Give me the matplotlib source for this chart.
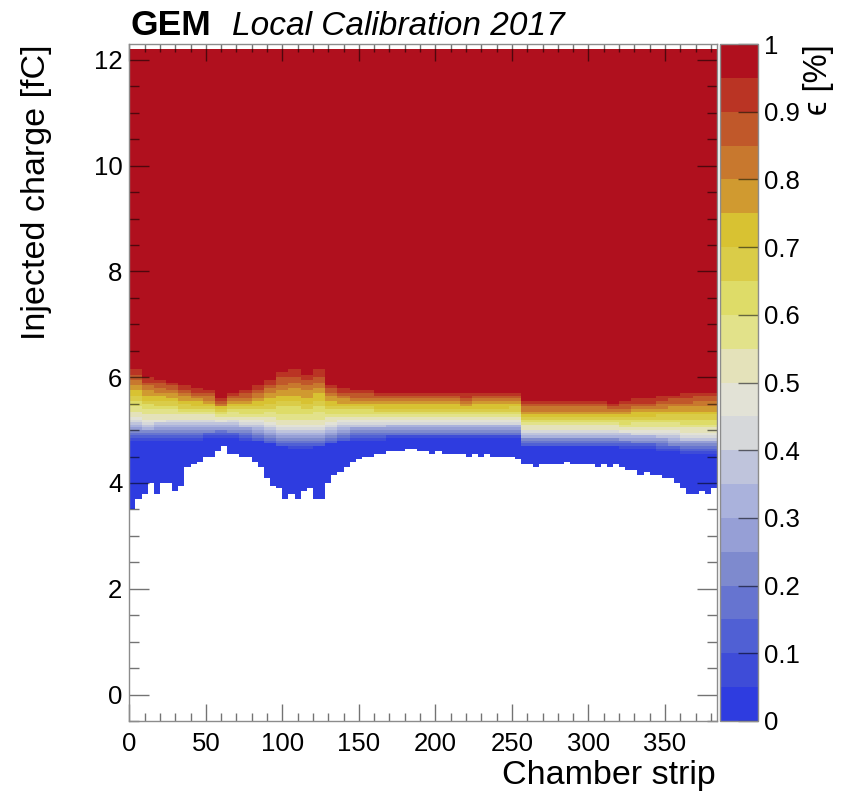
import numpy as np
import matplotlib
matplotlib.use('Agg')
import matplotlib.pyplot as plt
from matplotlib.colors import ListedColormap, BoundaryNorm
from matplotlib.ticker import MultipleLocator

plt.rcParams['font.family'] = ['Liberation Sans', 'DejaVu Sans']

# charge (fC) read per group of 8 strips (48 groups, strips 0..383)
# top_q: efficiency reaches 1, mid_q: ~0.5, low_q: ~0
top_q = [6.25, 6.10, 6.05, 6.00, 5.90, 5.85, 5.80, 5.65, 5.75, 5.80, 5.90, 6.05,
         6.20, 6.25, 6.15, 6.25, 5.95, 5.85, 5.80, 5.80, 5.75, 5.75, 5.75, 5.75,
         5.75, 5.75, 5.75, 5.73, 5.75, 5.75, 5.75, 5.77, 5.60, 5.60, 5.60, 5.60,
         5.60, 5.60, 5.60, 5.57, 5.60, 5.65, 5.65, 5.70, 5.75, 5.77, 5.80, 5.80]
mid_q = [5.25, 5.22, 5.22, 5.22, 5.22, 5.22, 5.22, 5.20, 5.22, 5.20, 5.18, 5.15,
         5.10, 5.08, 5.10, 5.10, 5.15, 5.18, 5.20, 5.20, 5.20, 5.20, 5.20, 5.20,
         5.20, 5.20, 5.20, 5.20, 5.20, 5.20, 5.20, 5.20, 5.02, 5.02, 5.02, 5.02,
         5.02, 5.02, 5.02, 5.02, 5.00, 5.00, 5.00, 5.00, 4.98, 4.95, 4.95, 4.95]
low_q = [4.73, 4.73, 4.75, 4.78, 4.78, 4.78, 4.80, 4.83, 4.80, 4.78, 4.73, 4.68,
         4.63, 4.61, 4.61, 4.63, 4.68, 4.73, 4.78, 4.78, 4.78, 4.80, 4.80, 4.80,
         4.80, 4.80, 4.80, 4.80, 4.80, 4.80, 4.80, 4.80, 4.65, 4.65, 4.65, 4.65,
         4.65, 4.65, 4.65, 4.65, 4.63, 4.61, 4.61, 4.58, 4.55, 4.53, 4.53, 4.53]

# lowest charge with hits, per group of 4 strips (96 groups)
cut_q = [3.50, 3.72, 3.80, 3.98, 3.82, 4.02, 4.00, 3.86, 3.93, 4.28, 4.36, 4.38,
         4.48, 4.52, 4.58, 4.68, 4.55, 4.53, 4.50, 4.50, 4.40, 4.30, 4.12, 3.95,
         3.88, 3.70, 3.78, 3.72, 3.85, 3.88, 3.72, 3.68, 3.98, 4.15, 4.22, 4.30,
         4.38, 4.43, 4.48, 4.52, 4.55, 4.53, 4.58, 4.60, 4.58, 4.63, 4.65, 4.62,
         4.60, 4.57, 4.60, 4.55, 4.57, 4.53, 4.55, 4.52, 4.55, 4.50, 4.53, 4.50,
         4.48, 4.52, 4.50, 4.47, 4.33, 4.36, 4.32, 4.35, 4.33, 4.37, 4.35, 4.38,
         4.34, 4.36, 4.33, 4.35, 4.32, 4.34, 4.30, 4.33, 4.28, 4.25, 4.27, 4.15,
         4.18, 4.14, 4.17, 4.12, 4.10, 3.98, 3.92, 3.82, 3.78, 3.85, 3.80, 3.88]

# 20 level palette, efficiency 0 -> 1
pal = ['#2e3ce0', '#3e4cd8', '#5060d4', '#6674d0', '#7e8ace', '#969fd6',
       '#aab2dc', '#bfc4dc', '#d6d8da', '#e2e2d6', '#e4e2ba', '#e2e28a',
       '#dedc68', '#dacc48', '#d8c232', '#d09a30', '#c8782e', '#c0582a',
       '#ba3424', '#b0101e']

n_strips = 384
x_edges = np.arange(n_strips + 1)
y_edges = np.linspace(-0.5, 12.2, 255)
y_mid = 0.5 * (y_edges[1:] + y_edges[:-1])

top = np.repeat(top_q, 8)
mid = np.repeat(mid_q, 8)
low = np.repeat(low_q, 8)
cut = np.repeat(cut_q, 4)

q = y_mid[:, None]
eff = np.where(q > mid, 0.5 + 0.5 * (q - mid) / (top - mid),
               0.5 - 0.5 * (mid - q) / (mid - low))
eff = np.clip(eff, 0.01, 0.9999)
eff = np.ma.masked_where(q < cut[None, :], eff)

fig = plt.figure(figsize=(8.44, 7.96), dpi=100)
W, H = 844., 796.
ax = fig.add_axes([129.3/W, 1-721/H, (717-129.3)/W, (721-44)/H])
cax = fig.add_axes([720/W, 1-721/H, 38/W, (721-44)/H])

cmap = ListedColormap(pal)
norm = BoundaryNorm(np.linspace(0, 1, 21), 20)
pc = ax.pcolormesh(x_edges, y_edges, eff, cmap=cmap, norm=norm,
                   shading='flat', rasterized=True)

ax.set_xlim(0, 384)
ax.set_ylim(-0.5, 12.3)
ax.xaxis.set_major_locator(MultipleLocator(50))
ax.xaxis.set_minor_locator(MultipleLocator(10))
ax.yaxis.set_major_locator(MultipleLocator(2))
ax.yaxis.set_minor_locator(MultipleLocator(0.5))
tc = (0, 0, 0, 0.55)
ax.tick_params(axis='x', which='major', direction='in', length=12.2, width=1,
               color=tc, top=True, labelsize=18.5, pad=8)
ax.tick_params(axis='x', which='minor', direction='in', length=5.8, width=1,
               color=tc, top=True)
ax.tick_params(axis='y', which='major', direction='in', length=14.4, width=1,
               color=tc, right=True, labelsize=18.5, pad=5)
ax.tick_params(axis='y', which='minor', direction='in', length=7.2, width=1,
               color=tc, right=True)
for sp in ax.spines.values():
    sp.set_color('#8c8c8c')
    sp.set_linewidth(1)

cb = fig.colorbar(pc, cax=cax, ticks=np.linspace(0, 1, 11), format='%g')
cb.outline.set_edgecolor('#8c8c8c')
cb.outline.set_linewidth(1)
cax.minorticks_off()
cax.tick_params(direction='in', length=14.4, width=1, color=tc,
                labelsize=18.5, pad=4)

fig.text(130/W, 1-35/H, 'GEM', fontsize=25.5, fontweight='bold', va='baseline')
fig.text(232/W, 1-35/H, 'Local Calibration 2017', fontsize=24,
         style='italic', va='baseline')
fig.text(37/W, 1-44/H, 'Injected charge [fC]', fontsize=24.5, rotation=90,
         ha='center', va='top')
fig.text(716/W, 1-784/H, 'Chamber strip', fontsize=24.5, ha='right',
         va='baseline')
fig.text(818/W, 1-44/H, 'ϵ [%]', fontsize=23.5, rotation=90, ha='center',
         va='top')

fig.savefig('out.png', dpi=100)
